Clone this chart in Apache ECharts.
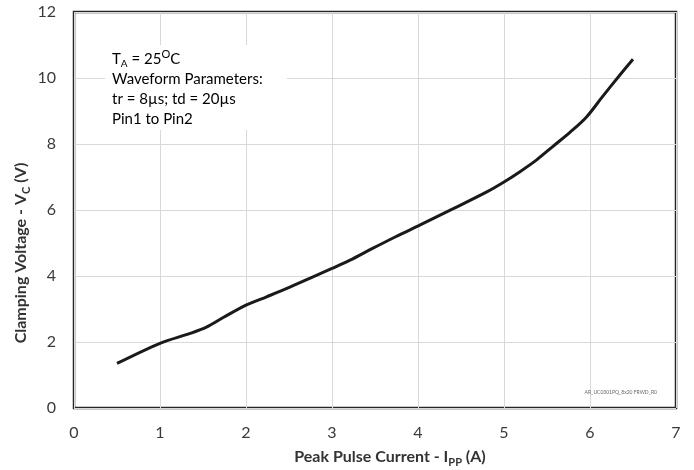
<!DOCTYPE html>
<html>
<head>
<meta charset="utf-8">
<script src="https://cdn.jsdelivr.net/npm/echarts@6/dist/echarts.min.js"></script>
<style>html,body{margin:0;padding:0;background:#fff}#c{width:694px;height:470px}</style>
</head>
<body>
<div id="c"></div>
<script>
// Data
const currentA = [0.50, 1.00, 1.35, 1.54, 1.74, 2.00, 2.24, 2.51, 2.74, 3.00, 3.21, 3.46, 3.74, 4.02, 4.41, 4.80, 5.00, 5.19, 5.38, 5.57, 5.77, 5.96, 6.15, 6.35, 6.50];
const clampV   = [1.35, 1.96, 2.26, 2.45, 2.75, 3.12, 3.37, 3.66, 3.93, 4.23, 4.48, 4.82, 5.19, 5.54, 6.04, 6.55, 6.85, 7.17, 7.52, 7.93, 8.36, 8.82, 9.45, 10.10, 10.57];
const xTicks = [0, 1, 2, 3, 4, 5, 6, 7];
const yTicks = [0, 2, 4, 6, 8, 10, 12];

const font = 'Lato, "Open Sans", sans-serif';
const titleRich = {
  b: {fontFamily: font, fontSize: 16, fontWeight: 'bold', color: '#333', lineHeight: 22},
  s: {fontFamily: font, fontSize: 11, fontWeight: 'bold', color: '#333', verticalAlign: 'bottom', lineHeight: 22, padding: [9, 0, 0, 0]}
};
const chart = echarts.init(document.getElementById('c'), null, {renderer: 'canvas'});
chart.setOption({
  animation: false,
  backgroundColor: '#fff',
  grid: {left: 74, right: 18, top: 12, bottom: 62, outerBoundsMode: 'none', containLabel: false,
         show: true, borderColor: '#262626', borderWidth: 2.5, backgroundColor: 'transparent'},
  xAxis: {
    type: 'value', min: xTicks[0], max: xTicks[xTicks.length - 1], interval: 1,
    name: '{b|Peak Pulse Current - I}{s|PP}{b| (A)}',
    nameLocation: 'middle', nameGap: 38,
    nameTextStyle: {padding: [0, 0, 0, 30], rich: titleRich},
    axisLine: {show: false}, axisTick: {show: false},
    axisLabel: {fontFamily: font, fontSize: 16, color: '#3a3a3a', margin: 17},
    splitLine: {show: true, lineStyle: {color: '#d9d9d9', width: 1}}
  },
  yAxis: {
    type: 'value', min: yTicks[0], max: yTicks[yTicks.length - 1], interval: 2,
    name: '{b|Clamping Voltage - V}{s|C}{b| (V)}',
    nameLocation: 'middle', nameGap: 42, nameRotate: 90, nameMoveOverlap: false,
    nameTextStyle: {padding: [0, 86, 0, 0], rich: titleRich},
    axisLine: {show: false}, axisTick: {show: false},
    axisLabel: {fontFamily: font, fontSize: 16, color: '#3a3a3a', margin: 18},
    splitLine: {show: true, lineStyle: {color: '#d9d9d9', width: 1}}
  },
  series: [{
    type: 'line',
    data: currentA.map((x, i) => [x, clampV[i]]),
    smooth: 0.3, showSymbol: false,
    lineStyle: {color: '#1a1a1a', width: 3}
  }],
  graphic: [
    {type: 'rect', shape: {x: 105, y: 45, width: 182, height: 85}, style: {fill: '#fff'}, z: 10},
    {type: 'text', x: 112, y: 49, z: 11, style: {
      text: '{n|T}{s|A}{n| = 25}{p|O}{n|C}\n{n|Waveform Parameters:}\n{n|tr = 8µs; td = 20µs}\n{n|Pin1 to Pin2}',
      rich: {
        n: {fontFamily: font, fontSize: 15, color: '#333', lineHeight: 20},
        s: {fontFamily: font, fontSize: 10, color: '#333', verticalAlign: 'bottom', lineHeight: 20, padding: [8, 0, 0, 0]},
        p: {fontFamily: font, fontSize: 11, color: '#333', verticalAlign: 'top', lineHeight: 20, padding: [0, 0, 6, 0]}
      }
    }},
    {type: 'text', x: 657, y: 392, z: 11, style: {text: 'AR_UC0301PQ_8x20 FRWD_R0', fontFamily: font, fontSize: 5, fill: '#666', align: 'right', verticalAlign: 'middle'}}
  ]
});
</script>
</body>
</html>
